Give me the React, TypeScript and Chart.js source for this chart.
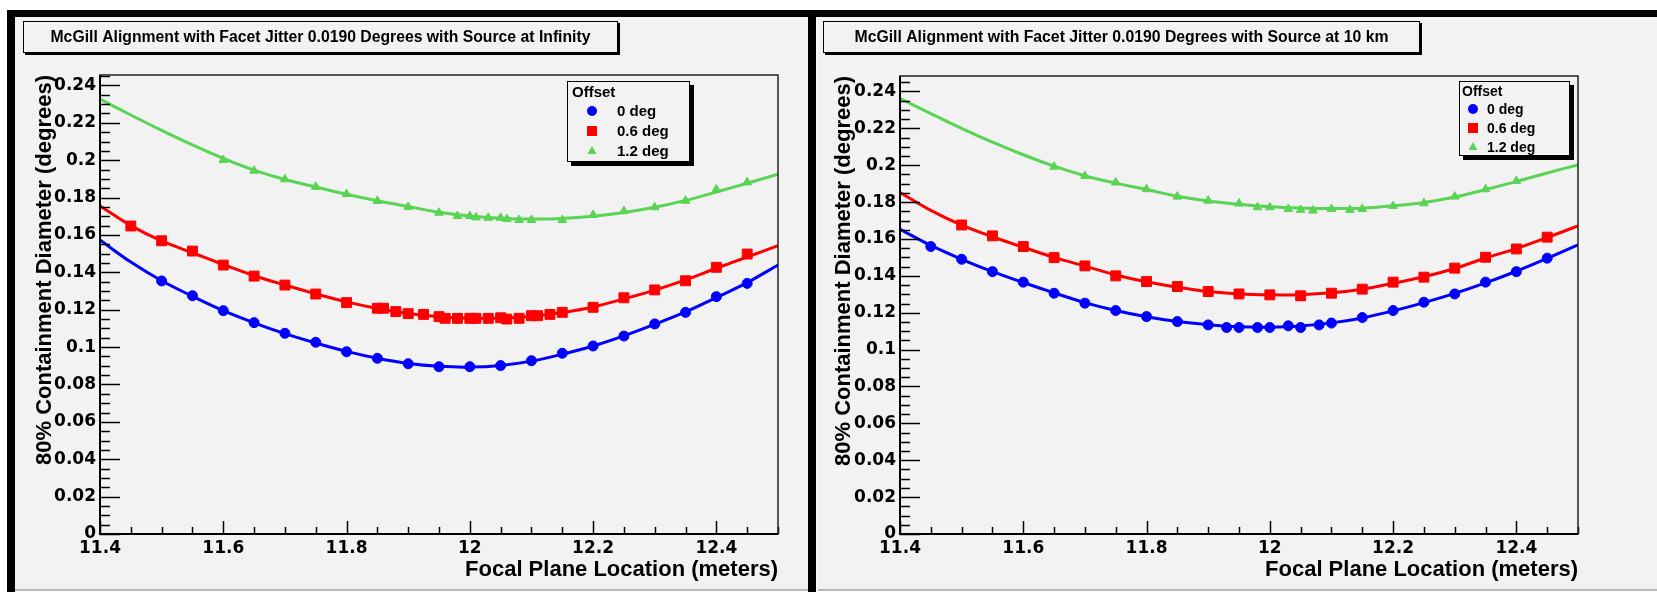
import React, { useEffect, useRef } from 'react';
import { Chart, registerables } from 'chart.js';

Chart.register(...registerables);

// ---------- data ----------
const X_TICKS = [11.4, 11.6, 11.8, 12, 12.2, 12.4];
const Y_TICKS = [0, 0.02, 0.04, 0.06, 0.08, 0.1, 0.12, 0.14, 0.16, 0.18, 0.2, 0.22, 0.24];
const LEGEND_LABELS = ['0 deg', '0.6 deg', '1.2 deg'];
const LEGEND_TITLE = 'Offset';
const X_TITLE = 'Focal Plane Location (meters)';
const Y_TITLE = '80% Containment Diameter (degrees)';
const TITLE_INF = 'McGill Alignment with Facet Jitter 0.0190 Degrees with Source at Infinity';
const TITLE_KM = 'McGill Alignment with Facet Jitter 0.0190 Degrees with Source at 10 km';

const FIT_X = [11.4, 11.45, 11.5, 11.55, 11.6, 11.65, 11.7, 11.75, 11.8, 11.85, 11.9, 11.95, 12.0, 12.05, 12.1, 12.15, 12.2, 12.25, 12.3, 12.35, 12.4, 12.45, 12.5];

// Source at infinity
const INF_X_BLUE = [11.5, 11.55, 11.6, 11.65, 11.7, 11.75, 11.8, 11.85, 11.9, 11.95, 12.0, 12.05, 12.1, 12.15, 12.2, 12.25, 12.3, 12.35, 12.4, 12.45];
const INF_Y_BLUE = [0.1354, 0.1275, 0.1195, 0.1131, 0.1074, 0.1026, 0.0975, 0.094, 0.0911, 0.0895, 0.0895, 0.0901, 0.0927, 0.0967, 0.1006, 0.1059, 0.1124, 0.1186, 0.127, 0.1341];
const INF_X_RED = [11.45, 11.5, 11.55, 11.6, 11.65, 11.7, 11.75, 11.8, 11.85, 11.86, 11.88, 11.9, 11.925, 11.95, 11.96, 11.98, 12.0, 12.01, 12.03, 12.05, 12.06, 12.08, 12.1, 12.11, 12.13, 12.15, 12.2, 12.25, 12.3, 12.35, 12.4, 12.45];
const INF_Y_RED = [0.1648, 0.1569, 0.1514, 0.1439, 0.138, 0.1332, 0.1284, 0.1238, 0.1208, 0.1208, 0.119, 0.1179, 0.1175, 0.1163, 0.1154, 0.1154, 0.1154, 0.1154, 0.1154, 0.1157, 0.115, 0.1154, 0.1168, 0.1168, 0.1175, 0.1186, 0.1213, 0.1264, 0.1306, 0.1355, 0.1427, 0.1498];
const INF_X_GREEN = [11.6, 11.65, 11.7, 11.75, 11.8, 11.85, 11.9, 11.95, 11.98, 12.0, 12.01, 12.03, 12.05, 12.06, 12.08, 12.1, 12.15, 12.2, 12.25, 12.3, 12.35, 12.4, 12.45];
const INF_Y_GREEN = [0.2001, 0.1944, 0.1898, 0.1858, 0.1819, 0.1782, 0.175, 0.1719, 0.1701, 0.1701, 0.1694, 0.1692, 0.1692, 0.1685, 0.168, 0.168, 0.168, 0.1707, 0.1728, 0.1748, 0.1783, 0.1844, 0.1882];
const INF_FIT_BLUE = [0.1573, 0.1455, 0.1355, 0.1272, 0.1195, 0.113, 0.1072, 0.1022, 0.0977, 0.094, 0.0912, 0.0897, 0.0893, 0.0902, 0.0925, 0.0962, 0.1006, 0.106, 0.1122, 0.1188, 0.1265, 0.1345, 0.1439];
const INF_FIT_RED = [0.1755, 0.165, 0.1568, 0.1505, 0.1442, 0.1382, 0.1332, 0.1285, 0.1242, 0.1207, 0.118, 0.1163, 0.1155, 0.1155, 0.1165, 0.1185, 0.1215, 0.1258, 0.1305, 0.136, 0.1422, 0.1482, 0.1543];
const INF_FIT_GREEN = [0.2327, 0.2242, 0.216, 0.2082, 0.201, 0.1947, 0.1897, 0.1857, 0.1818, 0.1783, 0.1752, 0.1722, 0.1702, 0.169, 0.1685, 0.1688, 0.17, 0.172, 0.1748, 0.1785, 0.183, 0.1877, 0.1925];

// Source at 10 km
const KM_X_BLUE = [11.45, 11.5, 11.55, 11.6, 11.65, 11.7, 11.75, 11.8, 11.85, 11.9, 11.93, 11.95, 11.98, 12.0, 12.03, 12.05, 12.08, 12.1, 12.15, 12.2, 12.25, 12.3, 12.35, 12.4, 12.45];
const KM_Y_BLUE = [0.1559, 0.149, 0.1423, 0.1366, 0.1306, 0.1252, 0.1212, 0.1179, 0.1152, 0.1134, 0.112, 0.112, 0.112, 0.112, 0.1129, 0.112, 0.1134, 0.1144, 0.1174, 0.1212, 0.1257, 0.1302, 0.1366, 0.1423, 0.1496];
const KM_X_RED = [11.5, 11.55, 11.6, 11.65, 11.7, 11.75, 11.8, 11.85, 11.9, 11.95, 12.0, 12.05, 12.1, 12.15, 12.2, 12.25, 12.3, 12.35, 12.4, 12.45];
const KM_Y_RED = [0.1676, 0.1617, 0.1559, 0.1499, 0.1454, 0.14, 0.1369, 0.1342, 0.1315, 0.1302, 0.1297, 0.1292, 0.1306, 0.1328, 0.1366, 0.1393, 0.1442, 0.1501, 0.1546, 0.161];
const KM_X_GREEN = [11.65, 11.7, 11.75, 11.8, 11.85, 11.9, 11.95, 11.98, 12.0, 12.03, 12.05, 12.07, 12.1, 12.13, 12.15, 12.2, 12.25, 12.3, 12.35, 12.4];
const KM_Y_GREEN = [0.1992, 0.1942, 0.1906, 0.187, 0.183, 0.1808, 0.1792, 0.1772, 0.1772, 0.1763, 0.1758, 0.1754, 0.1763, 0.1758, 0.1763, 0.1779, 0.1794, 0.183, 0.187, 0.1915];
const KM_FIT_BLUE = [0.1653, 0.1565, 0.149, 0.1423, 0.1364, 0.1308, 0.1255, 0.1212, 0.1178, 0.1152, 0.1135, 0.1124, 0.1122, 0.1128, 0.1145, 0.1172, 0.121, 0.1255, 0.1305, 0.1362, 0.1425, 0.1495, 0.1568];
const KM_FIT_RED = [0.1852, 0.1755, 0.1675, 0.1612, 0.1555, 0.15, 0.1453, 0.1405, 0.1368, 0.1338, 0.1315, 0.1302, 0.1297, 0.1298, 0.1308, 0.1328, 0.136, 0.1395, 0.144, 0.1497, 0.1548, 0.1608, 0.1671];
const KM_FIT_GREEN = [0.2363, 0.228, 0.22, 0.2125, 0.2057, 0.1995, 0.1943, 0.1903, 0.1868, 0.1832, 0.1806, 0.1788, 0.1775, 0.1768, 0.1765, 0.1767, 0.178, 0.1798, 0.1828, 0.1868, 0.1912, 0.1958, 0.2002];

// ---------- styles ----------
const FONT = '"Liberation Sans", Arial, Helvetica, sans-serif';
const TICK_FONT = '"DejaVu Sans", "Liberation Sans", Arial, sans-serif';
const BG = '#f2f2f2';
const COLORS = ['#0000ff', '#ff0000', 'rgb(89,212,84)'];
const STYLES = ['circle', 'rect', 'triangle'];
const RADII = [5, 7, 5];

const pts = (xs: number[], ys: number[]) => xs.map((x, i) => ({ x, y: ys[i] }));
const fmt = (v: number) => String(parseFloat(Number(v).toFixed(4)));

function drawMarker(ctx: CanvasRenderingContext2D, style: string, x: number, y: number, color: string) {
  ctx.fillStyle = color;
  ctx.beginPath();
  if (style === 'circle') {
    ctx.arc(x, y, 5, 0, Math.PI * 2);
  } else if (style === 'rect') {
    ctx.rect(x - 5, y - 5, 10, 10);
  } else {
    ctx.moveTo(x, y - 5);
    ctx.lineTo(x + 4.5, y + 3);
    ctx.lineTo(x - 4.5, y + 3);
    ctx.closePath();
  }
  ctx.fill();
}

const rootDeco = {
  id: 'rootDeco',
  beforeDraw(chart: any, _a: any, o: any) {
    const { ctx, width, height } = chart;
    ctx.save();
    ctx.fillStyle = BG;
    ctx.fillRect(0, 0, width, height);
    const tb = o.titleBox;
    ctx.fillStyle = '#000';
    ctx.fillRect(tb.x + 2, tb.y + 2, tb.w, tb.h);
    ctx.fillStyle = BG;
    ctx.fillRect(tb.x, tb.y, tb.w, tb.h);
    ctx.strokeStyle = '#000';
    ctx.lineWidth = 1;
    ctx.strokeRect(tb.x + 0.5, tb.y + 0.5, tb.w - 1, tb.h - 1);
    ctx.fillStyle = '#000';
    ctx.font = 'bold 16px ' + FONT;
    ctx.textAlign = 'center';
    ctx.textBaseline = 'middle';
    ctx.fillText(o.title, tb.x + tb.w / 2, tb.y + tb.h / 2 + 1, tb.textW);
    ctx.restore();
  },
  afterDatasetsDraw(chart: any) {
    const { ctx, chartArea: ca } = chart;
    const xs = chart.scales.x;
    const ys = chart.scales.y;
    ctx.save();
    ctx.strokeStyle = '#000';
    ctx.lineWidth = 1.5;
    const ymax = ys.max;
    for (let k = 0; k * 0.005 <= ymax + 1e-9; k++) {
      const v = k * 0.005;
      const py = Math.round(ys.getPixelForValue(v)) + 0.5;
      const len = k % 4 === 0 ? 20 : 10;
      ctx.beginPath();
      ctx.moveTo(ca.left, py);
      ctx.lineTo(ca.left + len, py);
      ctx.stroke();
    }
    for (let k = 0; k <= 22; k++) {
      const v = 11.4 + k * 0.05;
      const px = Math.round(xs.getPixelForValue(v)) + 0.5;
      const len = k % 4 === 0 ? 13 : 7;
      ctx.beginPath();
      ctx.moveTo(px, ca.bottom);
      ctx.lineTo(px, ca.bottom - len);
      ctx.stroke();
    }
    ctx.strokeStyle = '#222';
    ctx.lineWidth = 1.5;
    ctx.strokeRect(ca.left, ca.top, ca.right - ca.left, ca.bottom - ca.top);
    ctx.strokeStyle = '#000';
    ctx.lineWidth = 2;
    ctx.beginPath();
    ctx.moveTo(ca.left, ca.top);
    ctx.lineTo(ca.left, ca.bottom);
    ctx.lineTo(ca.right, ca.bottom);
    ctx.stroke();
    ctx.restore();
  },
  afterDraw(chart: any, _a: any, o: any) {
    const { ctx } = chart;
    const lg = o.legend;
    ctx.save();
    ctx.fillStyle = '#000';
    ctx.fillRect(lg.x + 4, lg.y + 4, lg.w, lg.h);
    ctx.fillStyle = BG;
    ctx.fillRect(lg.x, lg.y, lg.w, lg.h);
    ctx.strokeStyle = '#000';
    ctx.lineWidth = 1;
    ctx.strokeRect(lg.x + 0.5, lg.y + 0.5, lg.w - 1, lg.h - 1);
    ctx.fillStyle = '#000';
    ctx.font = 'bold ' + lg.font + 'px ' + FONT;
    ctx.textAlign = 'left';
    ctx.textBaseline = 'alphabetic';
    ctx.fillText(LEGEND_TITLE, lg.hx, lg.hy);
    ctx.textBaseline = 'middle';
    LEGEND_LABELS.forEach((label, i) => {
      const ry = lg.rows[i];
      drawMarker(ctx, STYLES[i], lg.mx, ry, COLORS[i]);
      ctx.fillStyle = '#000';
      ctx.fillText(label, lg.tx, ry + 1);
    });
    ctx.restore();
  },
};

type PanelCfg = {
  left: number;
  w: number;
  chartLeft: number;
  top: number;
  padRight: number;
  ymax: number;
  yTitlePad: number;
  title: string;
  titleBox: any;
  legend: any;
  series: { xs: number[]; ys: number[]; fit: number[] }[];
};

const PANELS: PanelCfg[] = [
  {
    left: 15,
    w: 793,
    chartLeft: 85,
    top: 58,
    padRight: 30,
    ymax: 0.2456,
    yTitlePad: 17,
    title: TITLE_INF,
    titleBox: { x: 8, y: 4, w: 595, h: 32, textW: 540 },
    legend: { x: 552, y: 64, w: 123, h: 81, font: 15, hx: 557, hy: 80, mx: 577, tx: 602, rows: [94, 114, 134] },
    series: [
      { xs: INF_X_BLUE, ys: INF_Y_BLUE, fit: INF_FIT_BLUE },
      { xs: INF_X_RED, ys: INF_Y_RED, fit: INF_FIT_RED },
      { xs: INF_X_GREEN, ys: INF_Y_GREEN, fit: INF_FIT_GREEN },
    ],
  },
  {
    left: 818,
    w: 839,
    chartLeft: 82,
    top: 59,
    padRight: 79,
    ymax: 0.2484,
    yTitlePad: 13,
    title: TITLE_KM,
    titleBox: { x: 5, y: 4, w: 597, h: 32, textW: 534 },
    legend: { x: 641, y: 64, w: 111, h: 75, font: 14, hx: 644, hy: 79, mx: 655, tx: 669, rows: [92, 111, 130] },
    series: [
      { xs: KM_X_BLUE, ys: KM_Y_BLUE, fit: KM_FIT_BLUE },
      { xs: KM_X_RED, ys: KM_Y_RED, fit: KM_FIT_RED },
      { xs: KM_X_GREEN, ys: KM_Y_GREEN, fit: KM_FIT_GREEN },
    ],
  },
];

const H = 572;

function Panel({ cfg }: { cfg: PanelCfg }) {
  const ref = useRef<HTMLCanvasElement>(null);
  useEffect(() => {
    const datasets: any[] = [];
    cfg.series.forEach((s, i) => {
      datasets.push({
        data: pts(FIT_X, s.fit),
        showLine: true,
        borderColor: COLORS[i],
        borderWidth: 3,
        pointRadius: 0,
        tension: 0.35,
        fill: false,
      });
    });
    cfg.series.forEach((s, i) => {
      datasets.push({
        data: pts(s.xs, s.ys),
        showLine: false,
        pointStyle: STYLES[i],
        pointRadius: RADII[i],
        backgroundColor: COLORS[i],
        borderColor: COLORS[i],
        borderWidth: 1,
      });
    });
    const tickFont = { family: TICK_FONT, size: 17, weight: 'bold' as const };
    const titleFont = { family: FONT, size: 22, weight: 'bold' as const };
    const chart = new Chart(ref.current!, {
      type: 'scatter',
      data: { datasets },
      plugins: [rootDeco as any],
      options: {
        animation: false,
        responsive: false,
        maintainAspectRatio: false,
        events: [],
        layout: { padding: { left: 0, top: cfg.top, right: cfg.padRight, bottom: 0 } },
        plugins: {
          legend: { display: false },
          tooltip: { enabled: false },
          rootDeco: { title: cfg.title, titleBox: cfg.titleBox, legend: cfg.legend },
        } as any,
        scales: {
          x: {
            type: 'linear',
            min: 11.4,
            max: 12.5,
            grid: { display: false, drawTicks: false },
            border: { display: false },
            afterBuildTicks: (s: any) => {
              s.ticks = X_TICKS.map((v) => ({ value: v }));
            },
            afterFit: (s: any) => {
              s.height = 55;
            },
            ticks: { color: '#000', font: tickFont, padding: 4, maxRotation: 0, autoSkip: false, callback: (v: any) => fmt(v) },
            title: { display: true, text: X_TITLE, align: 'end', color: '#000', font: titleFont, padding: { top: 0, bottom: 6 } },
          },
          y: {
            type: 'linear',
            min: 0,
            max: cfg.ymax,
            grid: { display: false, drawTicks: false },
            border: { display: false },
            afterBuildTicks: (s: any) => {
              s.ticks = Y_TICKS.map((v) => ({ value: v }));
            },
            afterFit: (s: any) => {
              s.width = cfg.chartLeft;
            },
            ticks: { color: '#000', font: tickFont, padding: 4, autoSkip: false, callback: (v: any) => fmt(v) },
            title: { display: true, text: Y_TITLE, align: 'end', color: '#000', font: titleFont, padding: { top: cfg.yTitlePad, bottom: 0 } },
          },
        },
      } as any,
    });
    return () => chart.destroy();
  }, [cfg]);
  return (
    <canvas
      ref={ref}
      width={cfg.w}
      height={H}
      style={{ position: 'absolute', left: cfg.left, top: 17, width: cfg.w, height: H }}
    />
  );
}

export default function App() {
  return (
    <div style={{ position: 'fixed', left: 0, top: 0, width: 1657, height: 592, background: '#fff', overflow: 'hidden' }}>
      <div style={{ position: 'absolute', left: 7, top: 10, width: 1650, height: 7, background: '#000' }} />
      <div style={{ position: 'absolute', left: 7, top: 10, width: 8, height: 582, background: '#000' }} />
      <div style={{ position: 'absolute', left: 808, top: 10, width: 8, height: 582, background: '#000' }} />
      <div style={{ position: 'absolute', left: 816, top: 17, width: 2, height: 575, background: '#fafafa' }} />
      <Panel cfg={PANELS[0]} />
      <Panel cfg={PANELS[1]} />
      <div style={{ position: 'absolute', left: 15, top: 589, width: 793, height: 2, background: '#b8b8b8' }} />
      <div style={{ position: 'absolute', left: 818, top: 589, width: 839, height: 2, background: '#b8b8b8' }} />
    </div>
  );
}
